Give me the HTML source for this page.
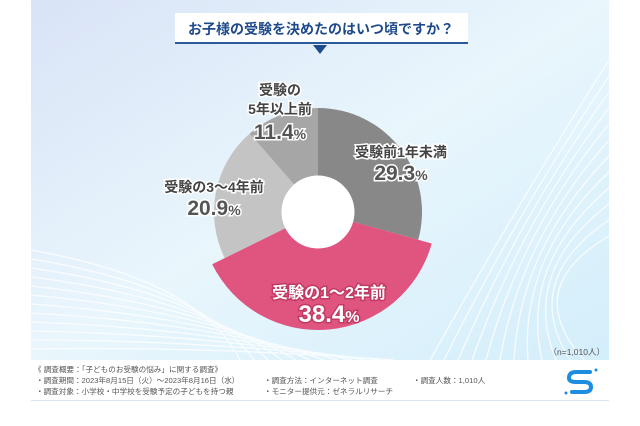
<!DOCTYPE html>
<html><head><meta charset="utf-8">
<style>
html,body{margin:0;padding:0;background:#fff;width:640px;height:426px;overflow:hidden}
svg{display:block}
text{font-family:"Liberation Sans","Noto Sans CJK JP",sans-serif}
.lab{font-size:14px;fill:#444;stroke:#fff;stroke-width:3px;paint-order:stroke;font-weight:bold}
.pct{font-family:"Liberation Sans Narrow","Liberation Sans",sans-serif;font-size:21px;fill:#555;stroke:#fff;stroke-width:3px;paint-order:stroke;font-weight:bold}
.plab{font-size:16px;fill:#fff;stroke:#c23a63;stroke-width:3px;paint-order:stroke;font-weight:bold}
.ppct{font-family:"Liberation Sans Narrow","Liberation Sans",sans-serif;font-size:24px;fill:#fff;stroke:#c23a63;stroke-width:3px;paint-order:stroke;font-weight:bold}
.ft{font-size:7.6px;fill:#555}
</style></head><body>
<svg id="c" width="640" height="426" viewBox="0 0 640 426">
<defs>
<linearGradient id="bg" x1="0" y1="0" x2="1" y2="1">
<stop offset="0" stop-color="#d9e3f7"/><stop offset="0.5" stop-color="#e9f6fc"/><stop offset="1" stop-color="#d3eefb"/>
</linearGradient>
</defs>
<rect x="31" y="0" width="578" height="360" fill="url(#bg)"/>
<g id="streaks" stroke="#fff" stroke-width="1.3" fill="none" opacity="0.8"></g>
<rect x="31" y="360" width="578" height="40" fill="#fff"/>
<line x1="31" y1="400.5" x2="609" y2="400.5" stroke="#dbe6f0" stroke-width="1"/>

<g>
<rect x="175" y="13" width="293" height="30" fill="#fff"/>
<rect x="175" y="42" width="293" height="2" fill="#2b5a9c"/>
<polygon points="313,45 327,45 320,54" fill="#1e4a8c"/>
<text x="321" y="34" text-anchor="middle" style="font-size:14px;fill:#1e4a8c;font-weight:bold">お子様の受験を決めたのはいつ頃ですか？</text>
</g>

<g id="slices"></g>
<circle cx="318" cy="212" r="36.5" fill="#fff"/>

<g id="labels">
<text class="lab" x="280" y="95" text-anchor="middle">受験の</text>
<text class="lab" x="280" y="114" text-anchor="middle">5年以上前</text>
<text class="lab" x="401" y="157" text-anchor="middle">受験前1年未満</text>
<text class="lab" x="214" y="192" text-anchor="middle">受験の3〜4年前</text>
<text class="plab" x="329" y="298" text-anchor="middle">受験の1〜2年前</text>
</g>
<g id="pcts"></g>

<text x="605" y="355" text-anchor="end" style="font-size:8.5px;fill:#555">（n=1,010人）</text>
<g>
<text class="ft" x="34" y="372">《 調査概要：「子どものお受験の悩み」に関する調査》</text>
<text class="ft" x="36" y="383">・調査期間：2023年8月15日（火）〜2023年8月16日（水）</text>
<text class="ft" x="36" y="394">・調査対象：小学校・中学校を受験予定の子どもを持つ親</text>
<text class="ft" x="264" y="383">・調査方法：インターネット調査</text>
<text class="ft" x="264" y="394">・モニター提供元：ゼネラルリサーチ</text>
<text class="ft" x="413" y="383">・調査人数：1,010人</text>
</g>
<g fill="none" stroke="#1d8de0" stroke-width="4" stroke-linecap="round">
<path d="M590,372 H576 Q569,372 569,378 Q569,382 576,382 H584 Q591,382 591,387 Q591,392 584,392 H572"/>
<circle cx="596" cy="370" r="1.5" fill="#1d8de0" stroke="none"/>
<circle cx="566" cy="393" r="1.5" fill="#1d8de0" stroke="none"/>
</g>
</svg>
<script>
const categories=["受験前1年未満","受験の1〜2年前","受験の3〜4年前","受験の5年以上前"];
const values=[29.3,38.4,20.9,11.4];
const valueLabels=["29.3%","38.4%","20.9%","11.4%"];
const colors=["#888888","#e0557f","#c4c4c4","#a6a6a6"];
const NS="http://www.w3.org/2000/svg";
const cx=318,cy=212;
function radiusFor(i){return i===1?118:104;}
function angle(v){return v/100*2*Math.PI;}
function pt(a,r){return [cx+r*Math.sin(a),cy-r*Math.cos(a)];}
const total=values.reduce((a,b)=>a+b,0);
let acc=0;
const sg=document.getElementById('slices');
values.forEach((v,i)=>{
  const a0=angle(acc/total*100),a1=angle((acc+v)/total*100);acc+=v;
  const r=radiusFor(i);
  const p0=pt(a0,r),p1=pt(a1,r);
  const large=(a1-a0)>Math.PI?1:0;
  const p=document.createElementNS(NS,'path');
  p.setAttribute('d',`M${cx},${cy} L${p0[0]},${p0[1]} A${r},${r} 0 ${large} 1 ${p1[0]},${p1[1]} Z`);
  p.setAttribute('fill',colors[i]);
  
  
  sg.appendChild(p);
});
const pctPos=[[401,180],[329,322],[214,215],[280,139]];
const pg=document.getElementById('pcts');
valueLabels.forEach((s,i)=>{
  const t=document.createElementNS(NS,'text');
  t.setAttribute('x',pctPos[i][0]);t.setAttribute('y',pctPos[i][1]);
  t.setAttribute('text-anchor','middle');
  t.setAttribute('class',i===1?'ppct':'pct');
  
  
  const num=s.replace('%','');
  t.textContent=num;
  const ts=document.createElementNS(NS,'tspan');
  ts.setAttribute('style','font-size:'+(i===1?16:14)+'px');
  ts.textContent='%';
  t.appendChild(ts);
  pg.appendChild(t);
});
const st=document.getElementById('streaks');
for(let k=0;k<12;k++){
  const l=document.createElementNS(NS,'path');
  l.setAttribute('d',`M31,${250+k*9} Q200,${280+k*6} ${240+k*14},360`);
  
  
  st.appendChild(l);
  const r=document.createElementNS(NS,'path');
  r.setAttribute('d',`M609,${60+k*16} Q520,${200+k*8} ${430+k*14},360`);
  
  
  st.appendChild(r);
}
</script>
</body></html>
